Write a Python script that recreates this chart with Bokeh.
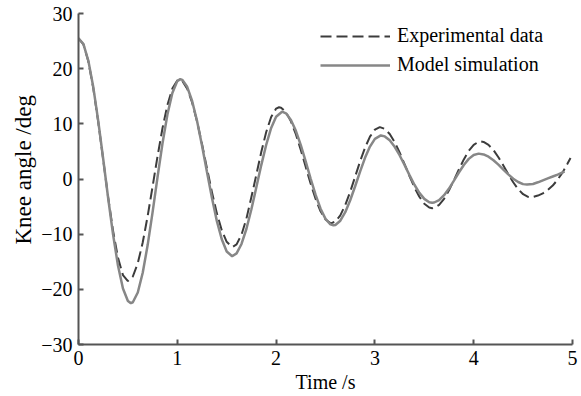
from bokeh.plotting import figure
from bokeh.models import Range1d, Legend, LegendItem, FixedTicker, Title
from bokeh.embed import file_html
from bokeh.resources import INLINE

# ---- data ----
exp_t = [0.00, 0.05, 0.10, 0.15, 0.20, 0.25, 0.30, 0.35, 0.40, 0.45, 0.50,
         0.55, 0.60, 0.65, 0.70, 0.75, 0.80, 0.85, 0.90, 0.95, 1.00, 1.02,
         1.05, 1.10, 1.15, 1.20, 1.25, 1.30, 1.35, 1.40, 1.45, 1.50, 1.55, 1.56,
         1.60, 1.65, 1.70, 1.75, 1.80, 1.85, 1.90, 1.95, 2.00, 2.03,
         2.05, 2.10, 2.15, 2.20, 2.25, 2.30, 2.35, 2.40, 2.45, 2.50, 2.55, 2.56,
         2.60, 2.65, 2.70, 2.75, 2.80, 2.85, 2.90, 2.95, 3.00, 3.05,
         3.10, 3.15, 3.20, 3.25, 3.30, 3.35, 3.40, 3.45, 3.50, 3.55, 3.58,
         3.60, 3.65, 3.70, 3.75, 3.80, 3.85, 3.90, 3.95, 4.00, 4.05, 4.07,
         4.10, 4.15, 4.20, 4.25, 4.30, 4.35, 4.40, 4.45, 4.50, 4.55, 4.575,
         4.60, 4.65, 4.70, 4.75, 4.80, 4.85, 4.90, 4.95, 4.98]
exp_y = [25.5, 24.42, 21.30, 16.43, 10.30, 3.50, -3.30, -9.43, -14.30, -17.42, -18.5,
         -17.67, -15.27, -11.52, -6.72, -1.35, 4.12, 9.20, 13.41, 16.38, 17.87, 18.0,
         17.77, 16.39, 13.87, 10.43, 6.34, 1.97, -2.33, -6.19, -9.30, -11.39, -12.27, -12.3,
         -11.85, -10.08, -7.15, -3.27, 0.77, 4.90, 8.52, 11.24, 12.76, 13.0,
         12.93, 12.11, 10.45, 8.11, 5.27, 2.19, -0.87, -3.62, -5.85, -7.34, -7.98, -8.0,
         -7.72, -6.59, -4.72, -2.30, 0.42, 3.18, 5.68, 7.67, 8.96, 9.40,
         9.08, 8.15, 6.68, 4.81, 2.70, 0.54, -1.50, -3.22, -4.49, -5.18, -5.3,
         -5.25, -4.70, -3.60, -2.05, -0.22, 1.72, 3.55, 5.10, 6.20, 6.75, 6.8,
         6.71, 6.19, 5.24, 3.95, 2.45, 0.89, -0.59, -1.85, -2.76, -3.24, -3.3,
         -3.25, -3.0, -2.6, -2.0, -1.2, -0.1, 1.2, 2.8, 3.8]

model_t = [0.00, 0.05, 0.10, 0.15, 0.20, 0.25, 0.30, 0.35, 0.40, 0.45, 0.50, 0.53,
           0.55, 0.60, 0.65, 0.70, 0.75, 0.80, 0.85, 0.90, 0.95, 1.00, 1.03,
           1.05, 1.10, 1.15, 1.20, 1.25, 1.30, 1.35, 1.40, 1.45, 1.50, 1.555,
           1.60, 1.65, 1.70, 1.75, 1.80, 1.85, 1.90, 1.95, 2.00, 2.06,
           2.10, 2.15, 2.20, 2.25, 2.30, 2.35, 2.40, 2.45, 2.50, 2.55, 2.58,
           2.60, 2.65, 2.70, 2.75, 2.80, 2.85, 2.90, 2.95, 3.00, 3.06,
           3.10, 3.15, 3.20, 3.25, 3.30, 3.35, 3.40, 3.45, 3.50, 3.55, 3.58,
           3.60, 3.65, 3.70, 3.75, 3.80, 3.85, 3.90, 3.95, 4.00, 4.05,
           4.10, 4.15, 4.20, 4.25, 4.30, 4.35, 4.40, 4.45, 4.50, 4.54,
           4.60, 4.65, 4.70, 4.75, 4.80, 4.85, 4.90, 4.92]
model_y = [25.5, 24.45, 21.41, 16.62, 10.50, 3.63, -3.44, -10.09, -15.72, -19.84, -22.12, -22.5,
           -22.34, -20.57, -17.00, -11.98, -6.00, 0.34, 6.44, 11.70, 15.59, 17.74, 18.1,
           17.98, 16.71, 14.14, 10.50, 6.09, 1.33, -3.37, -7.59, -10.93, -13.15, -14.0,
           -13.49, -11.78, -9.02, -5.49, -1.51, 2.52, 6.21, 9.25, 11.29, 12.2,
           11.90, 10.71, 8.73, 6.13, 3.14, 0.04, -2.89, -5.38, -7.22, -8.23, -8.4,
           -8.33, -7.56, -6.01, -3.85, -1.31, 1.34, 3.83, 5.88, 7.28, 7.9,
           7.72, 7.02, 5.84, 4.31, 2.54, 0.70, -1.04, -2.51, -3.60, -4.20, -4.3,
           -4.26, -3.82, -2.94, -1.73, -0.30, 1.18, 2.54, 3.65, 4.36, 4.6,
           4.46, 4.04, 3.40, 2.60, 1.71, 0.83, 0.05, -0.54, -0.93, -1.0,
           -0.9, -0.6, -0.25, 0.1, 0.45, 0.8, 1.2, 1.35]

x_ticks = [0, 1, 2, 3, 4, 5]
y_ticks = [-30, -20, -10, 0, 10, 20, 30]
y_tick_labels = ["\u221230", "\u221220", "\u221210", "0", "10", "20", "30"]
series_names = ["Experimental data", "Model simulation"]
x_label = "Time /s"
y_label = "Knee angle /deg"

FONT = "Liberation Serif"
AXIS_COLOR = "#555555"
EXP_COLOR = "#3c3c3c"
MODEL_COLOR = "#878787"

p = figure(width=581, height=396, output_backend="svg", toolbar_location=None,
           x_range=Range1d(0, 5), y_range=Range1d(-30, 30),
           min_border_left=78, min_border_right=9, min_border_top=13, min_border_bottom=52)
p.outline_line_color = None
p.xgrid.grid_line_color = None
p.ygrid.grid_line_color = None
p.background_fill_color = "white"
p.border_fill_color = "white"

r_exp = p.line(exp_t, exp_y, line_color=EXP_COLOR, line_width=2, line_dash="11 5")
r_model = p.line(model_t, model_y, line_color=MODEL_COLOR, line_width=2.5)

for ax in (p.xaxis[0], p.yaxis[0]):
    ax.axis_line_color = AXIS_COLOR
    ax.axis_line_width = 2
    ax.major_tick_line_color = AXIS_COLOR
    ax.major_tick_line_width = 2
    ax.major_tick_in = 5
    ax.major_tick_out = 0
    ax.minor_tick_line_color = None
    ax.major_label_text_font = FONT
    ax.major_label_text_font_size = "20px"
    ax.major_label_text_color = "black"
    ax.axis_label_text_font = FONT
    ax.axis_label_text_font_style = "normal"
    ax.axis_label_text_color = "black"

p.xaxis.ticker = FixedTicker(ticks=x_ticks)
p.yaxis.ticker = FixedTicker(ticks=y_ticks)
p.yaxis.major_label_overrides = {t: l for t, l in zip(y_ticks, y_tick_labels)}
p.xaxis.axis_label = x_label
p.xaxis.axis_label_text_font_size = "20px"
p.xaxis.major_label_standoff = 6
p.yaxis.major_label_standoff = 6
p.xaxis.axis_label_standoff = 3

ytitle = Title(text=y_label, align="left", offset=100, standoff=6,
               text_font=FONT, text_font_size="23px", text_font_style="normal",
               text_color="black")
p.add_layout(ytitle, "left")

legend = Legend(items=[LegendItem(label=series_names[0], renderers=[r_exp]),
                       LegendItem(label=series_names[1], renderers=[r_model])],
                location=(242, 268), orientation="vertical",
                glyph_width=70, glyph_height=20, label_height=20, spacing=6,
                label_standoff=7, padding=0, margin=0,
                border_line_color=None, background_fill_alpha=0,
                label_text_font=FONT, label_text_font_size="20px",
                label_text_color="black")
p.add_layout(legend)

open("out.html", "w").write(file_html(p, INLINE))
